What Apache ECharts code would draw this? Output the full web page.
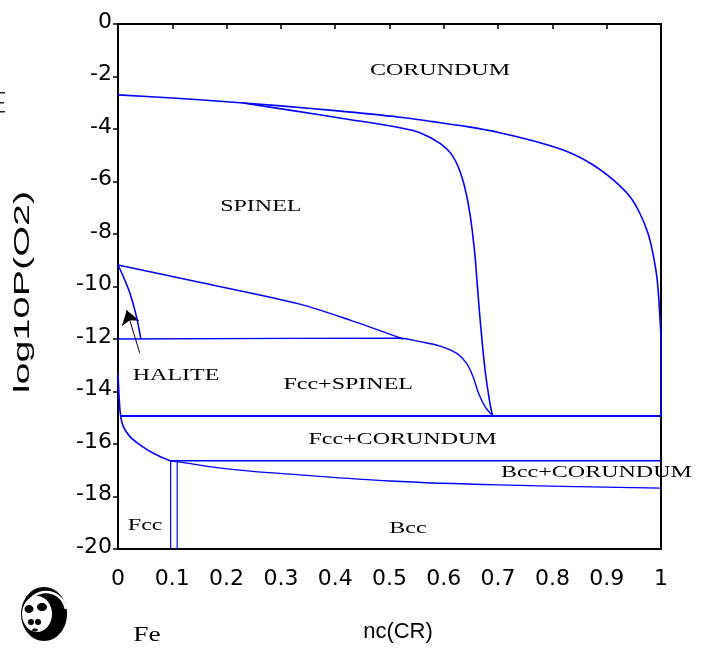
<!DOCTYPE html>
<html><head><meta charset="utf-8">
<script src="https://cdn.jsdelivr.net/npm/echarts@6/dist/echarts.min.js"></script>
<style>html,body{margin:0;padding:0;background:#fff}#c{width:702px;height:650px}</style>
</head><body><div id="c"></div>
<script>
// ---- data (nc(CR), log10P(O2)) ----
const spinelTop = [[0,-2.70],[0.1,-2.82],[0.2,-2.96],[0.3,-3.12],[0.4,-3.30],[0.519,-3.55],[0.58,-3.72],[0.643,-3.91],[0.703,-4.14],[0.764,-4.45],[0.827,-4.86],[0.875,-5.37],[0.912,-5.94],[0.943,-6.58],[0.961,-7.21],[0.976,-7.97],[0.985,-8.73],[0.993,-9.75],[0.998,-11.16],[1.0,-12.04]];
const rightEdge = [[1.0,-12.04],[1.0,-14.93]];
const spinelInner = [[0.23,-3.01],[0.322,-3.30],[0.414,-3.60],[0.519,-3.95],[0.556,-4.14],[0.593,-4.55],[0.617,-5.05],[0.635,-5.94],[0.648,-7.21],[0.657,-8.73],[0.661,-9.75],[0.667,-11.28],[0.676,-13.18],[0.685,-14.45],[0.690,-14.93]];
const haliteTop = [[0,-9.18],[0.15,-9.84],[0.335,-10.67],[0.43,-11.3],[0.525,-12.0]];
const haliteCurve = [[0,-9.18],[0.01,-9.63],[0.022,-10.26],[0.034,-11.15],[0.042,-12.0]];
const fccSpinelTop = [[0,-12],[0.519,-11.97],[0.556,-12.10],[0.593,-12.27],[0.624,-12.55],[0.642,-12.93],[0.654,-13.44],[0.664,-14.07],[0.676,-14.58],[0.690,-14.93]];
const line15 = [[0.005,-14.93],[1,-14.93]];
const leftCurve = [[0,-13.3],[0.002,-14.2],[0.005,-14.96],[0.0098,-15.34],[0.022,-15.72],[0.041,-16.04],[0.065,-16.35],[0.096,-16.64]];
const line166 = [[0.096,-16.64],[1,-16.64]];
const bccCurve = [[0.096,-16.64],[0.108,-16.67],[0.21,-16.97],[0.335,-17.18],[0.5,-17.41],[0.7,-17.56],[1,-17.68]];
const vertA = [[0.097,-16.64],[0.097,-20]];
const vertB = [[0.109,-16.64],[0.109,-20]];
const arrowLine = [[0.040,-12.53],[0.016,-10.9]];
const regionLabels = [
  ['CORUNDUM',0.593,-1.79],['SPINEL',0.263,-6.97],['HALITE',0.107,-13.41],
  ['Fcc+SPINEL',0.424,-13.75],['Fcc+CORUNDUM',0.524,-15.85],['Bcc+CORUNDUM',0.881,-17.1],
  ['Fcc',0.05,-19.12],['Bcc',0.534,-19.24]
];
const xTitle = 'nc(CR)', yTitle = 'log10P(O2)', elementLabel = 'Fe';

const BLUE = '#0000ff';
function ln(data, w, smooth){ return {type:'line', data, showSymbol:false, symbol:'none', silent:true,
  smooth: smooth||false, lineStyle:{color:BLUE, width:w||1.6}, animation:false}; }

const chart = echarts.init(document.getElementById('c'), null, {renderer:'canvas'});
chart.setOption({
  animation:false,
  grid:{left:118, right:41, top:24, bottom:101, show:true, borderColor:'#000', borderWidth:2},
  xAxis:{type:'value', min:0, max:1, interval:0.1, splitLine:{show:false},
    axisLine:{lineStyle:{color:'#000', width:2}}, axisTick:{length:5, lineStyle:{color:'#000', width:1.5}},
    axisLabel:{color:'#000', fontFamily:'DejaVu Sans', fontSize:22, margin:19}},
  yAxis:{type:'value', min:-20, max:0, interval:2, splitLine:{show:false},
    axisLine:{onZero:false, lineStyle:{color:'#000', width:2}}, axisTick:{length:5, lineStyle:{color:'#000', width:1.5}},
    axisLabel:{color:'#000', fontFamily:'DejaVu Sans', fontSize:22, margin:6, verticalAlign:'bottom', lineHeight:22, padding:[0,0,-9,0]}},
  series:[
    ln(spinelTop,1.6,0.35), ln(rightEdge,1.6), ln(spinelInner,1.6,0.35), ln(haliteTop,1.4,0.3), ln(haliteCurve,1.6,0.3),
    ln(fccSpinelTop,1.4,0.35), ln(line15,2), ln(leftCurve,1.6,0.35), ln(line166,1.6), ln(bccCurve,1.3,0.35),
    ln(vertA,1.2), ln(vertB,1.2),
    {type:'lines', coordinateSystem:'cartesian2d', silent:true, animation:false,
     data:[{coords:arrowLine}], symbol:['none','arrow'], symbolSize:[6,14],
     lineStyle:{color:'#000', width:1, opacity:1}}
  ]
});

const g = [];
regionLabels.forEach(([t,x,y])=>{
  const p = chart.convertToPixel({gridIndex:0},[x,y]);
  g.push({type:'text', x:p[0], y:p[1], scaleX:1.5, silent:true,
    style:{text:t, font:'16px "Liberation Serif"', fill:'#000', textAlign:'center', textVerticalAlign:'middle'}});
});
g.push({type:'text', x:147, y:635, scaleX:1.3, style:{text:elementLabel, font:'21px "Liberation Serif"', fill:'#000', textAlign:'center', textVerticalAlign:'middle'}});
g.push({type:'text', x:398, y:632, style:{text:xTitle, font:'22px "Liberation Sans"', fill:'#000', textAlign:'center', textVerticalAlign:'middle'}});
g.push({type:'text', x:23, y:292, rotation:Math.PI/2, scaleX:1.8, style:{text:yTitle, font:'22px "Liberation Sans"', fill:'#000', textAlign:'center', textVerticalAlign:'middle'}});
// small panda logo
g.push({type:'group', silent:true, children:[
  {type:'ellipse', shape:{cx:44, cy:614, rx:23, ry:27}, style:{fill:'#000'}},
  {type:'arc', shape:{cx:46, cy:612, r:20, startAngle:-Math.PI*0.95, endAngle:-Math.PI*0.05}, style:{stroke:'#fff', lineWidth:2.5, fill:null}},
  {type:'ellipse', shape:{cx:37, cy:614, rx:15, ry:18}, style:{fill:'#fff'}},
  {type:'ellipse', shape:{cx:29, cy:609, rx:4.5, ry:4}, style:{fill:'#000'}},
  {type:'ellipse', shape:{cx:42, cy:607, rx:5, ry:4}, style:{fill:'#000'}},
  {type:'circle', shape:{cx:31, cy:622, r:3}, style:{fill:'#000'}},
  {type:'circle', shape:{cx:38, cy:622, r:3}, style:{fill:'#000'}},
  {type:'ellipse', shape:{cx:35, cy:630, rx:3, ry:1.5}, style:{fill:'#000'}}
]});
// clipped glyph at left edge
g.push({type:'group', silent:true, children:[
  {type:'rect', shape:{x:0, y:92, width:5, height:1.5}, style:{fill:'#222'}},
  {type:'rect', shape:{x:0, y:102, width:4, height:1.5}, style:{fill:'#222'}},
  {type:'rect', shape:{x:0, y:111, width:5, height:1.5}, style:{fill:'#222'}}
]});
chart.setOption({graphic:g});
</script></body></html>
